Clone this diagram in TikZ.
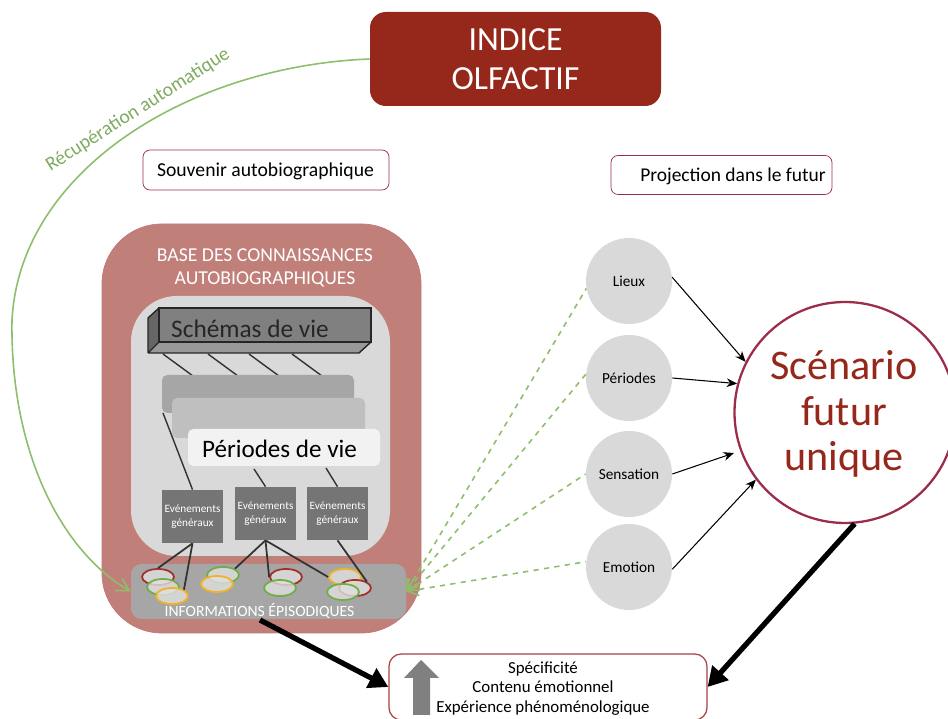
\documentclass[tikz,border=0pt]{standalone}
\usepackage{fontspec}
\setmainfont{Carlito}
\usetikzlibrary{arrows.meta,shapes.geometric}

\definecolor{brique}{HTML}{96281B}
\definecolor{rosebase}{HTML}{C17F7A}
\definecolor{bordrose}{HTML}{A8403F}
\definecolor{prune}{HTML}{9B2D4A}
\definecolor{vertfleche}{HTML}{8DBE6C}
\definecolor{rougeell}{HTML}{A5302A}
\definecolor{vertell}{HTML}{70AD47}
\definecolor{jauneell}{HTML}{F0B323}

\def\u{0.02cm}
\tikzset{
    titrebox/.style={draw=prune, fill=white, rounded corners=4pt, inner sep=0pt},
    evtbox/.style={fill=black!54, text=white, inner sep=0pt, minimum width=61*\u, minimum height=53*\u, align=center, font=\fontsize{6.4}{8}\selectfont},
    pastille/.style={circle, fill=black!15, inner sep=0pt, minimum size=86*\u, font=\fontsize{8.7}{10}\selectfont},
    souv/.style={ellipse, fill=black!12, fill opacity=0.8, line width=1pt, inner sep=0pt, minimum width=32*\u, minimum height=16*\u},
    lien/.style={black!80, line width=0.8pt},
    gros/.style={line width=3pt, -{Triangle[length=11pt, width=12pt]}},
    fin/.style={line width=0.6pt, -{Stealth[length=6pt, width=5pt]}},
    vertpointille/.style={vertfleche, line width=0.9pt, dashed},
}

\begin{document}
\begin{tikzpicture}[x=\u, y=-\u]
    \useasboundingbox (0,0) rectangle (948,719);
    % haut
    \node[fill=brique, text=white, rounded corners=9pt, inner sep=0pt, minimum width=291*\u, minimum height=94*\u, align=center, font=\fontsize{19.2}{22}\selectfont] (indice) at (515.5,59) {INDICE\\OLFACTIF};
    \node[titrebox, minimum width=246*\u, minimum height=40*\u] (souvenir) at (266,170) {};
    \node[font=\fontsize{11.2}{13}\selectfont] (souvenirtxt) at (265.5,171) {Souvenir autobiographique};
    \node[titrebox, minimum width=221*\u, minimum height=39*\u] (projection) at (721.5,175) {};
    \node[font=\fontsize{11.1}{13}\selectfont] (projectiontxt) at (733,176) {Projection dans le futur};

    % base des connaissances
    \node[draw=bordrose!70, fill=rosebase, rounded corners=34pt, inner sep=0pt, minimum width=319*\u, minimum height=409*\u] (base) at (261.5,428.5) {};
    \node[text=white, align=center, font=\fontsize{11.2}{13}\selectfont] (basetitre) at (265,268) {BASE DES CONNAISSANCES\\AUTOBIOGRAPHIQUES};
    \node[fill=black!15, rounded corners=26pt, inner sep=0pt, minimum width=259*\u, minimum height=260*\u] (interne) at (260.5,426) {};

    % schemas de vie
    \fill[black!60] (148,353) -- (148,318) -- (159,308) -- (159,342) -- cycle;
    \fill[black!40] (148,353) -- (159,342) -- (371,342) -- (359,353) -- cycle;
    \node[draw=black!85, fill=black!50, line width=0.8pt, inner sep=0pt, minimum width=212*\u, minimum height=34*\u] (schemas) at (265,325) {};
    \draw[black!85, line width=0.8pt] (148,353) -- (148,318) -- (159,308) (148,353) -- (359,353) -- (371,342) (148,353) -- (159,342);
    \node[text=black!85, anchor=west, font=\fontsize{14.4}{16}\selectfont] (schemastxt) at (165,329) {Schémas de vie};

    % periodes de vie
    \coordinate (s1) at (163,354);
    \coordinate (s2) at (208,354);
    \coordinate (s3) at (249,354);
    \coordinate (s4) at (292,354);
    \coordinate (p1) at (193,376);
    \coordinate (p2) at (238,376);
    \coordinate (p3) at (279,376);
    \coordinate (p4) at (322,376);
    \foreach \i in {1,...,4}
        \draw[lien] (s\i) -- (p\i);
    \node[fill=black!35, rounded corners=3pt, inner sep=0pt, minimum width=192*\u, minimum height=38*\u] (periode1) at (258,394) {};
    \node[fill=black!25, rounded corners=3pt, inner sep=0pt, minimum width=193*\u, minimum height=40*\u] (periode2) at (268.5,418) {};
    \node[fill=black!5, rounded corners=3pt, inner sep=0pt, minimum width=192*\u, minimum height=37*\u] (periode3) at (284,447.5) {};
    \node[font=\fontsize{14.3}{16}\selectfont] (periode3txt) at (279.5,449) {Périodes de vie};

    % evenements generaux
    \node[evtbox] (evt1) at (192.5,516.5) {Evénements\\généraux};
    \node[evtbox] (evt2) at (265.5,513.5) {Evénements\\généraux};
    \node[evtbox] (evt3) at (337.5,513.5) {Evénements\\généraux};
    \coordinate (q1) at (163,413);
    \coordinate (q2) at (254,469);
    \coordinate (q3) at (326,468);
    \draw[lien] (q1) -- (evt1.north);
    \draw[lien] (q2) -- (evt2.north);
    \draw[lien] (q3) -- (evt3.north);

    % informations episodiques
    \node[fill=black!35, rounded corners=6pt, inner sep=0pt, minimum width=275*\u, minimum height=55*\u] (info) at (268.5,591.5) {};
    \node[text=white, font=\fontsize{8.9}{11}\selectfont] (infotxt) at (259.5,611) {INFORMATIONS ÉPISODIQUES};
    \node[souv, draw=rougeell] (e1) at (158,577) {};
    \node[souv, draw=vertell] (e2) at (163,587) {};
    \node[souv, draw=jauneell] (e3) at (172,596) {};
    \node[souv, draw=vertell] (e4) at (223,575) {};
    \node[souv, draw=jauneell] (e5) at (217,584) {};
    \node[souv, draw=rougeell] (e6) at (286,577) {};
    \node[souv, draw=vertell] (e7) at (280,588) {};
    \node[souv, draw=jauneell] (e8) at (345,577) {};
    \node[souv, draw=rougeell] (e9) at (355,588) {};
    \node[souv, draw=vertell] (e10) at (343,592) {};
    \draw[lien, line width=1pt] (evt1.south) -- (e1.north);
    \draw[lien, line width=1pt] (evt1.south) -- (e3.north east);
    \draw[lien, line width=1pt] (evt2.south) -- (e4.north east);
    \draw[lien, line width=1pt] (evt2.south) -- (e6.west);
    \draw[lien, line width=1pt] (evt2.south) -- (e8.west);
    \draw[lien, line width=1pt] (evt3.south) -- (e9.north east);

    % recuperation
    \draw[vertfleche, line width=0.9pt, -{Straight Barb[length=7pt, width=8pt]}] (indice.west) .. controls (190,66) and (20,170) .. (12,320) .. controls (10,450) and (60,550) .. (info.west);
    \node[text=vertfleche!90!black, rotate=32.5, font=\fontsize{11.2}{13}\selectfont] (recup) at (138,110) {Récupération automatique};

    % projection
    \node[pastille] (lieux) at (629,281) {Lieux};
    \node[pastille] (periodes) at (629,378) {Périodes};
    \node[pastille] (sensation) at (629,474) {Sensation};
    \node[pastille] (emotion) at (629,567) {Emotion};
    \node[circle, draw=prune, fill=white, line width=1.3pt, inner sep=0pt, minimum size=221*\u] (scenario) at (845,412.5) {};
    \node[align=center, text=brique, font=\fontsize{24}{26}\selectfont] (scenariotxt) at (844,414) {Scénario\\futur\\unique};
    \coordinate (verssc) at (734,453);
    \draw[fin] (lieux.5) -- (scenario.153);
    \draw[fin] (periodes.east) -- (scenario.165);
    \draw[fin] (sensation.east) -- (verssc);
    \draw[fin] (emotion.-3) -- (scenario.217);
    \foreach \c/\a in {lieux/190, periodes/175, sensation/180, emotion/173}
        \draw[vertpointille, {Straight Barb[length=6pt, width=7pt]}-] (info.east) -- (\c.\a);

    % bas
    \node[draw=bordrose, fill=white, rounded corners=7pt, inner sep=0pt, line width=0.7pt, minimum width=318*\u, minimum height=66*\u] (resultat) at (548,687) {};
    \fill[black!50] (421,660) -- (439,678) -- (430,678) -- (430,715) -- (413,715) -- (413,678) -- (404,678) -- cycle;
    \node[align=center, font=\fontsize{9.6}{11.2}\selectfont] (resultattxt) at (543,688.5) {Spécificité\\Contenu émotionnel\\Expérience phénoménologique};
    \coordinate (infobas) at (260,620);
    \draw[gros] (infobas) -- (resultat.west);
    \draw[gros] (scenario.-85) -- (resultat.east);
\end{tikzpicture}
\end{document}
